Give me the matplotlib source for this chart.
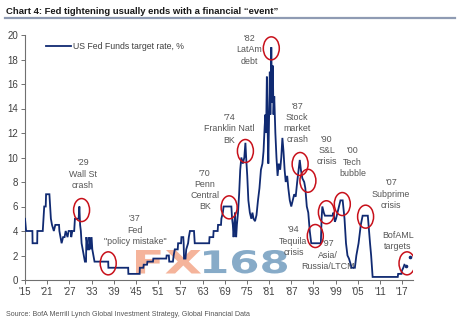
import matplotlib
matplotlib.use("Agg")
import matplotlib.pyplot as plt
from matplotlib.patches import Ellipse, PathPatch
from matplotlib.textpath import TextPath
from matplotlib.font_manager import FontProperties
from matplotlib.transforms import Affine2D, IdentityTransform
from matplotlib.lines import Line2D

plt.rcParams['font.family'] = ['Liberation Sans Narrow', 'Liberation Sans', 'DejaVu Sans']

# ---------------- data ----------------
years = [1915.0, 1915.3, 1917.0, 1917.05, 1918.3, 1918.35, 1919.8, 1920.0, 1920.2, 1920.6,
         1920.7, 1921.6, 1921.8, 1922.0, 1922.3, 1922.8, 1923.2, 1924.2, 1924.3, 1924.6,
         1924.9, 1925.3, 1925.7, 1926.0, 1926.5, 1926.8, 1927.4, 1927.5, 1927.8, 1928.3,
         1928.5, 1929.5, 1929.7, 1929.9, 1930.1, 1930.3, 1930.6, 1930.9, 1931.2, 1931.5,
         1931.6, 1932.0, 1932.3, 1932.4, 1932.7, 1933.0, 1933.2, 1933.5, 1933.8, 1937.5,
         1937.55, 1942.9, 1942.95, 1946.0, 1946.05, 1947.0, 1947.1, 1948.0, 1948.1, 1949.6,
         1949.7, 1953.2, 1953.3, 1953.9, 1954.0, 1955.0, 1955.2, 1955.5, 1956.3, 1956.4,
         1957.2, 1957.3, 1957.8, 1957.9, 1958.0, 1958.4, 1958.6, 1959.1, 1959.3, 1959.6,
         1960.7, 1960.9, 1964.8, 1964.9, 1965.9, 1966.0, 1967.1, 1967.2, 1968.0, 1968.1,
         1968.5, 1968.7, 1970.8, 1971.0, 1971.2, 1971.4, 1971.6, 1971.8, 1971.9, 1972.1,
         1972.3, 1972.6, 1972.9, 1973.2, 1973.5, 1973.9, 1974.3, 1974.6, 1974.8, 1975.1,
         1975.4, 1975.8, 1976.2, 1976.5, 1976.8, 1977.2, 1977.6, 1978.0, 1978.4, 1978.8,
         1979.2, 1979.5, 1979.8, 1980.0, 1980.2, 1980.4, 1980.6, 1980.8, 1981.0, 1981.2,
         1981.35, 1981.6, 1981.8, 1982.0, 1982.2, 1982.4, 1982.7, 1983.0, 1983.3, 1983.6,
         1984.0, 1984.3, 1984.6, 1984.9, 1985.2, 1985.5, 1985.9, 1986.2, 1986.6, 1987.0,
         1987.4, 1987.8, 1988.2, 1988.6, 1989.0, 1989.3, 1989.6, 1990.0, 1990.5, 1990.8,
         1991.2, 1991.6, 1992.0, 1992.4, 1995.0, 1995.2, 1995.4, 1995.8, 1996.1, 1998.2,
         1998.4, 1998.8, 1999.1, 1999.5, 1999.9, 2000.3, 2000.9, 2001.4, 2001.8, 2002.2,
         2002.6, 2003.1, 2003.3, 2004.2, 2004.6, 2005.2, 2005.8, 2006.3, 2007.7, 2007.9,
         2008.3, 2008.6, 2009.0, 2015.8, 2015.9, 2016.8, 2016.9, 2017.3, 2017.6]
rates = [5.0, 4.0, 4.0, 3.0, 3.0, 4.0, 4.0, 5.0, 6.0, 6.0,
         7.0, 7.0, 6.0, 5.0, 4.5, 4.0, 4.5, 4.5, 4.0, 3.5,
         3.0, 3.5, 3.5, 4.0, 3.5, 4.0, 4.0, 3.5, 4.0, 4.0,
         5.0, 5.0, 6.0, 4.5, 4.0, 3.0, 2.5, 2.0, 1.5, 1.5,
         3.5, 2.5, 2.5, 3.5, 2.5, 3.5, 2.5, 2.0, 1.5, 1.5,
         1.0, 1.0, 0.5, 0.5, 1.0, 1.0, 1.25, 1.25, 1.5, 1.5,
         1.75, 1.75, 2.0, 2.0, 1.5, 1.5, 2.0, 2.5, 2.5, 3.0,
         3.0, 3.5, 3.5, 3.0, 1.75, 1.75, 2.5, 3.0, 3.5, 4.0,
         4.0, 3.0, 3.0, 3.5, 3.5, 4.0, 4.0, 4.5, 4.5, 5.0,
         5.5, 6.0, 6.0, 5.0, 4.5, 3.5, 4.5, 5.5, 4.5, 3.5,
         4.5, 5.5, 7.0, 9.0, 10.0, 9.5, 10.0, 11.2, 10.0, 8.5,
         6.5, 5.5, 5.0, 5.5, 5.0, 4.8, 5.3, 6.5, 7.5, 9.0,
         9.5, 10.5, 12.5, 13.5, 12.0, 16.6, 12.5, 9.5, 13.0, 17.0,
         13.5, 19.0, 14.5, 17.5, 13.5, 15.0, 12.0, 10.0, 8.5, 9.5,
         9.0, 10.0, 11.6, 10.5, 9.0, 8.0, 8.5, 7.5, 6.5, 6.0,
         6.5, 7.0, 6.8, 8.0, 9.0, 9.8, 9.0, 8.3, 8.0, 7.5,
         6.0, 5.5, 4.0, 3.0, 3.0, 5.0, 6.0, 5.5, 5.25, 5.25,
         5.5, 4.75, 5.0, 5.5, 6.0, 6.5, 6.5, 5.0, 3.0, 2.0,
         1.75, 1.25, 1.0, 1.0, 2.0, 3.0, 4.5, 5.25, 5.25, 4.5,
         3.0, 2.0, 0.25, 0.25, 0.5, 0.5, 0.75, 1.0, 1.25]

target_years = [2018.0, 2019.0]
target_rates = [1.15, 1.85]

xtick_years = list(range(1915, 2018, 6))
xtick_labels = ["'%02d" % (y % 100) for y in xtick_years]
ytick_vals = list(range(0, 21, 2))

ann_texts = ["'29\nWall St\ncrash", "'37\nFed\n\"policy mistake\"", "'70\nPenn\nCentral\nBK",
             "'74\nFranklin Natl\nBK", "'82\nLatAm\ndebt", "'87\nStock\nmarket\ncrash",
             "'90\nS&L\ncrisis", "'00\nTech\nbubble", "'07\nSubprime\ncrisis",
             "BofAML\ntargets", "'94\nTequila\ncrisis", "'97", "Asia/", "Russia/LTCM"]
ann_x = [1930.7, 1944.7, 1963.6, 1970.3, 1975.6, 1988.6, 1996.6, 2003.6, 2014.0, 2015.8,
         1987.6, 1997.0, 1997.0, 1996.9]
ann_y = [8.65, 4.08, 7.35, 12.33, 18.78, 12.82, 10.6, 9.63, 7.02, 3.22,
         3.18, 3.02, 2.04, 1.12]

circ_x = [1930.3, 1937.5, 1970.2, 1974.6, 1981.6, 1989.4, 1991.5, 1993.5, 1996.5, 2000.8, 2007.1, 2018.3]
circ_y = [5.71, 1.36, 5.93, 10.53, 18.91, 9.47, 8.1, 3.59, 5.53, 6.2, 5.17, 1.36]

# ---------------- figure ----------------
W, H = 460, 324
fig = plt.figure(figsize=(W / 100, H / 100), dpi=100)
fig.patch.set_facecolor('white')
ax = fig.add_axes([25 / W, 1 - 280 / H, (413.3 - 25) / W, (280 - 35) / H])
ax.set_facecolor('none')

line_color = '#102a72'
ax.plot(years, rates, color=line_color, lw=1.3, zorder=3, solid_joinstyle='miter')
ax.plot(target_years, target_rates, linestyle='none', marker='o', ms=1.6, color=line_color, zorder=3)

ax.set_xlim(1915, 2020)
ax.set_ylim(0, 20)
ax.set_xticks(xtick_years)
ax.set_xticklabels(xtick_labels)
ax.set_yticks(ytick_vals)
for s in ['top', 'right']:
    ax.spines[s].set_visible(False)
for s in ['left', 'bottom']:
    ax.spines[s].set_color('#707070')
    ax.spines[s].set_linewidth(0.8)
ax.tick_params(axis='both', direction='out', length=3, width=0.7, color='#707070',
               labelsize=7, labelcolor='#404040', pad=2)

# annotations
txt_color = '#555555'
for t, x, y in zip(ann_texts, ann_x, ann_y):
    ax.text(x, y, t, ha='center', va='center', fontsize=6.4, color=txt_color,
            linespacing=1.3, zorder=2)

cw = 16 / 3.704
ch = 23 / 12.25
for x, y in zip(circ_x, circ_y):
    ax.add_patch(Ellipse((x, y), cw, ch, fill=False, edgecolor='#c8101a', lw=1.1, zorder=4))

# legend
ax.plot([], [], color=line_color, lw=1.3, label='US Fed Funds target rate, %')
leg = ax.legend(loc='upper left', bbox_to_anchor=(0.035, 1.0), frameon=False, fontsize=6.3,
                handlelength=2.9, handletextpad=0.25, borderaxespad=0.4)
for t in leg.get_texts():
    t.set_color('#404040')

# watermark FX168
fpw = FontProperties(family='DejaVu Sans', weight='bold')
def watermark(text, x0, x1, y0, y1, color):
    tp = TextPath((0, 0), text, size=100, prop=fpw)
    ext = tp.get_extents()
    tr = Affine2D().translate(-ext.x0, -ext.y0).scale((x1 - x0) / ext.width, (y1 - y0) / ext.height).translate(x0, y0)
    p = PathPatch(tr.transform_path(tp), facecolor=color, edgecolor='none',
                  transform=IdentityTransform(), zorder=1)
    p.set_clip_on(False)
    ax.add_artist(p)

watermark('FX', 136, 201, H - 273.5, H - 250, '#f5b49b')
watermark('168', 204, 287, H - 273.5, H - 250, '#87abc8')

# title & source
fig.text(6 / W, 1 - 11 / H, 'Chart 4: Fed tightening usually ends with a financial \u201cevent\u201d',
         fontsize=6.8, fontweight='bold', color='#1a1a1a', va='center', ha='left')
fig.add_artist(Line2D([5 / W, 455 / W], [1 - 17.5 / H, 1 - 17.5 / H], color='#8f9bb3', lw=1.6))
fig.text(6 / W, 1 - 315 / H,
         'Source: BofA Merrill Lynch Global Investment Strategy, Global Financial Data',
         fontsize=5.1, color='#555555', va='center', ha='left')

fig.savefig('out.png', dpi=100)
